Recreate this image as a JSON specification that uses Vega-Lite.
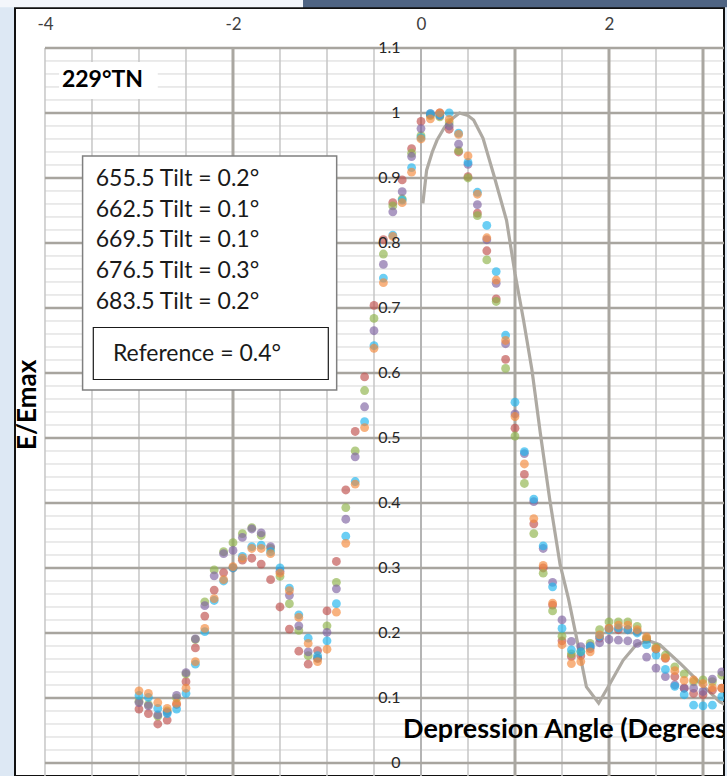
{
  "$schema": "https://vega.github.io/schema/vega-lite/v6.json",
  "width": 709,
  "height": 768,
  "autosize": {"type": "none"},
  "padding": {"left": 15, "top": 8, "right": 3, "bottom": 0},
  "background": "#dde8f4",
  "resolve": {"axis": {"x": "independent", "y": "independent"}},
  "config": {
    "view": {"fill": "white", "stroke": "#111111", "strokeWidth": 2},
    "font": "Lato",
    "locale": {"number": {"decimal": ".", "thousands": ",", "grouping": [3], "currency": ["$", ""], "minus": "-"}},
    "style": {"guide-label": {"fontSize": 16, "fill": "#262626", "font": "Lato"}},
    "axis": {"domain": false, "ticks": false, "grid": false, "labelFont": "Lato", "title": null},
    "axisX": {"labelFontSize": 17, "labelColor": "#404040", "labelPadding": 24, "labelBaseline": "middle"},
    "axisY": {"labelFontSize": 16, "labelColor": "#262626", "labelPadding": 21}
  },
  "datasets": {
    "minor": [{"v":0.02},{"v":0.04},{"v":0.06},{"v":0.08},{"v":0.12},{"v":0.14},{"v":0.16},{"v":0.18},{"v":0.22},{"v":0.24},{"v":0.26},{"v":0.28},{"v":0.32},{"v":0.34},{"v":0.36},{"v":0.38},{"v":0.42},{"v":0.44},{"v":0.46},{"v":0.48},{"v":0.52},{"v":0.54},{"v":0.56},{"v":0.58},{"v":0.62},{"v":0.64},{"v":0.66},{"v":0.68},{"v":0.72},{"v":0.74},{"v":0.76},{"v":0.78},{"v":0.82},{"v":0.84},{"v":0.86},{"v":0.88},{"v":0.92},{"v":0.94},{"v":0.96},{"v":0.98},{"v":1.02},{"v":1.04},{"v":1.06},{"v":1.08}],
    "major": [{"v":0},{"v":0.1},{"v":0.2},{"v":0.3},{"v":0.4},{"v":0.5},{"v":0.6},{"v":0.7},{"v":0.8},{"v":0.9},{"v":1.0},{"v":1.1}],
    "vthin": [{"v":-4},{"v":-3.5},{"v":-3},{"v":-2.5},{"v":-1.5},{"v":-1},{"v":-0.5},{"v":0.5},{"v":1.5},{"v":2.5}],
    "vmid": [{"v":0}],
    "vthick": [{"v":-2},{"v":1},{"v":2},{"v":3}],
    "ref": [{"x":0.02,"y":0.861},{"x":0.06,"y":0.912},{"x":0.12,"y":0.94},{"x":0.17,"y":0.958},{"x":0.25,"y":0.978},{"x":0.31,"y":0.989},{"x":0.41,"y":1.0},{"x":0.5,"y":0.996},{"x":0.56,"y":0.989},{"x":0.66,"y":0.961},{"x":0.77,"y":0.907},{"x":0.91,"y":0.835},{"x":1.0,"y":0.753},{"x":1.09,"y":0.682},{"x":1.18,"y":0.605},{"x":1.27,"y":0.507},{"x":1.37,"y":0.405},{"x":1.48,"y":0.305},{"x":1.57,"y":0.252},{"x":1.66,"y":0.189},{"x":1.76,"y":0.117},{"x":1.89,"y":0.092},{"x":1.99,"y":0.117},{"x":2.15,"y":0.158},{"x":2.29,"y":0.182},{"x":2.42,"y":0.188},{"x":2.54,"y":0.182},{"x":2.76,"y":0.153},{"x":2.97,"y":0.123},{"x":3.18,"y":0.094},{"x":3.3,"y":0.085}],
    "tilt": [
      {"x":-3.0,"t655":0.083,"t662":0.095,"t669":0.093,"t676":0.104,"t683":0.111},
      {"x":-2.9,"t655":0.076,"t662":0.090,"t669":0.088,"t676":0.101,"t683":0.107},
      {"x":-2.8,"t655":0.060,"t662":0.072,"t669":0.074,"t676":0.084,"t683":0.093},
      {"x":-2.7,"t655":0.066,"t662":0.080,"t669":0.078,"t676":0.076,"t683":0.084},
      {"x":-2.6,"t655":0.090,"t662":0.100,"t669":0.104,"t676":0.083,"t683":0.092},
      {"x":-2.5,"t655":0.125,"t662":0.137,"t669":0.139,"t676":0.107,"t683":0.115},
      {"x":-2.4,"t655":0.177,"t662":0.190,"t669":0.191,"t676":0.152,"t683":0.156},
      {"x":-2.3,"t655":0.226,"t662":0.248,"t669":0.242,"t676":0.202,"t683":0.207},
      {"x":-2.2,"t655":0.266,"t662":0.297,"t669":0.288,"t676":0.250,"t683":0.253},
      {"x":-2.1,"t655":0.293,"t662":0.325,"t669":0.322,"t676":0.280,"t683":0.282},
      {"x":-2.0,"t655":0.300,"t662":0.339,"t669":0.327,"t676":0.300,"t683":0.302},
      {"x":-1.9,"t655":0.312,"t662":0.353,"t669":0.347,"t676":0.318,"t683":0.315},
      {"x":-1.8,"t655":0.315,"t662":0.362,"t669":0.360,"t676":0.333,"t683":0.330},
      {"x":-1.7,"t655":0.306,"t662":0.350,"t669":0.354,"t676":0.335,"t683":0.330},
      {"x":-1.6,"t655":0.282,"t662":0.330,"t669":0.333,"t676":0.325,"t683":0.322},
      {"x":-1.5,"t655":0.240,"t662":0.287,"t669":0.295,"t676":0.300,"t683":0.292},
      {"x":-1.4,"t655":0.206,"t662":0.245,"t669":0.258,"t676":0.269,"t683":0.265},
      {"x":-1.3,"t655":0.172,"t662":0.204,"t669":0.211,"t676":0.228,"t683":0.224},
      {"x":-1.2,"t655":0.152,"t662":0.165,"t669":0.171,"t676":0.192,"t683":0.184},
      {"x":-1.1,"t655":0.173,"t662":0.161,"t669":0.161,"t676":0.165,"t683":0.156},
      {"x":-1.0,"t655":0.234,"t662":0.211,"t669":0.201,"t676":0.188,"t683":0.175},
      {"x":-0.9,"t655":0.310,"t662":0.278,"t669":0.268,"t676":0.245,"t683":0.232},
      {"x":-0.8,"t655":0.420,"t662":0.393,"t669":0.375,"t676":0.349,"t683":0.338},
      {"x":-0.7,"t655":0.510,"t662":0.480,"t669":0.471,"t676":0.433,"t683":0.429},
      {"x":-0.6,"t655":0.594,"t662":0.573,"t669":0.548,"t676":0.525,"t683":0.516},
      {"x":-0.5,"t655":0.704,"t662":0.684,"t669":0.665,"t676":0.642,"t683":0.638},
      {"x":-0.4,"t655":0.805,"t662":0.783,"t669":0.767,"t676":0.746,"t683":0.739},
      {"x":-0.3,"t655":0.862,"t662":0.857,"t669":0.848,"t676":0.812,"t683":0.810},
      {"x":-0.2,"t655":0.897,"t662":0.868,"t669":0.879,"t676":0.866,"t683":0.862},
      {"x":-0.1,"t655":0.945,"t662":0.938,"t669":0.933,"t676":0.916,"t683":0.909},
      {"x":0.0,"t655":0.987,"t662":0.965,"t669":0.976,"t676":0.962,"t683":0.960},
      {"x":0.1,"t655":0.997,"t662":0.996,"t669":0.999,"t676":0.999,"t683":0.991},
      {"x":0.2,"t655":1.0,"t662":0.994,"t669":0.996,"t676":0.997,"t683":1.0},
      {"x":0.3,"t655":0.975,"t662":0.985,"t669":0.980,"t676":1.0,"t683":0.990},
      {"x":0.4,"t655":0.940,"t662":0.942,"t669":0.952,"t676":0.969,"t683":0.967},
      {"x":0.5,"t655":0.902,"t662":0.900,"t669":0.921,"t676":0.924,"t683":0.934},
      {"x":0.6,"t655":0.846,"t662":0.842,"t669":0.859,"t676":0.878,"t683":0.875},
      {"x":0.7,"t655":0.788,"t662":0.774,"t669":0.805,"t676":0.827,"t683":0.808},
      {"x":0.8,"t655":0.714,"t662":0.710,"t669":0.738,"t676":0.756,"t683":0.743},
      {"x":0.9,"t655":0.621,"t662":0.607,"t669":0.645,"t676":0.658,"t683":0.650},
      {"x":1.0,"t655":0.515,"t662":0.503,"t669":0.537,"t676":0.555,"t683":0.533},
      {"x":1.1,"t655":0.444,"t662":0.430,"t669":0.476,"t676":0.479,"t683":0.460},
      {"x":1.2,"t655":0.368,"t662":0.353,"t669":0.402,"t676":0.406,"t683":0.376},
      {"x":1.3,"t655":0.300,"t662":0.292,"t669":0.330,"t676":0.334,"t683":0.304},
      {"x":1.4,"t655":0.243,"t662":0.234,"t669":0.278,"t676":0.271,"t683":0.246},
      {"x":1.5,"t655":0.188,"t662":0.195,"t669":0.220,"t676":0.207,"t683":0.182},
      {"x":1.6,"t655":0.164,"t662":0.168,"t669":0.187,"t676":0.174,"t683":0.153},
      {"x":1.7,"t655":0.165,"t662":0.172,"t669":0.179,"t676":0.171,"t683":0.156},
      {"x":1.8,"t655":0.176,"t662":0.184,"t669":0.180,"t676":0.179,"t683":0.171},
      {"x":1.9,"t655":0.192,"t662":0.205,"t669":0.185,"t676":0.195,"t683":0.197},
      {"x":2.0,"t655":0.207,"t662":0.217,"t669":0.190,"t676":0.205,"t683":0.207},
      {"x":2.1,"t655":0.205,"t662":0.217,"t669":0.189,"t676":0.208,"t683":0.212},
      {"x":2.2,"t655":0.205,"t662":0.217,"t669":0.188,"t676":0.205,"t683":0.212},
      {"x":2.3,"t655":0.202,"t662":0.210,"t669":0.184,"t676":0.200,"t683":0.205},
      {"x":2.4,"t655":0.190,"t662":0.192,"t669":0.163,"t676":0.182,"t683":0.194},
      {"x":2.5,"t655":0.175,"t662":0.178,"t669":0.146,"t676":0.166,"t683":0.176},
      {"x":2.6,"t655":0.161,"t662":0.166,"t669":0.133,"t676":0.144,"t683":0.162},
      {"x":2.7,"t655":0.133,"t662":0.148,"t669":0.120,"t676":0.118,"t683":0.142},
      {"x":2.8,"t655":0.115,"t662":0.137,"t669":0.115,"t676":0.105,"t683":0.127},
      {"x":2.9,"t655":0.107,"t662":0.125,"t669":0.115,"t676":0.089,"t683":0.128},
      {"x":3.0,"t655":0.105,"t662":0.128,"t669":0.110,"t676":0.088,"t683":0.122},
      {"x":3.1,"t655":0.112,"t662":0.125,"t669":0.129,"t676":0.089,"t683":0.116},
      {"x":3.2,"t655":0.115,"t662":0.135,"t669":0.140,"t676":0.102,"t683":0.115}
    ]
  },
  "layer": [
    {
      "data": {"name": "minor"},
      "mark": {"type": "rule", "color": "#d6d6d6", "strokeWidth": 1, "clip": true},
      "encoding": {
        "y": {"field": "v", "type": "quantitative", "scale": {"domain": [-0.02, 1.1615], "nice": false, "zero": false}, "axis": {"orient": "left", "values": [0, 0.1, 0.2, 0.3, 0.4, 0.5, 0.6, 0.7, 0.8, 0.9, 1, 1.1], "format": "~g", "offset": -406, "title": null, "zindex": 1, "labelFontSize": 16, "labelColor": "#262626", "labelPadding": 21, "labelFont": "Lato", "domain": false, "ticks": false, "grid": false, "encode": {"labels": {"update": {"fontSize": {"value": 16}, "fill": {"value": "#262626"}}}}}},
        "x": {"datum": -4, "type": "quantitative", "scale": {"domain": [-4.319, 3.2234], "nice": false, "zero": false}, "axis": {"orient": "top", "values": [-4, -2, 0, 2], "format": "d", "offset": -40, "title": null, "zindex": 1, "labelFontSize": 17, "labelColor": "#404040", "labelPadding": 24, "labelBaseline": "middle", "labelFont": "Lato", "domain": false, "ticks": false, "grid": false, "encode": {"labels": {"update": {"fontSize": {"value": 17}, "fill": {"value": "#404040"}}}}}},
        "x2": {"datum": 3.4}
      }
    },
    {
      "data": {"name": "vthin"},
      "mark": {"type": "rule", "color": "#c6c6c6", "strokeWidth": 1.5, "clip": true},
      "encoding": {
        "x": {"field": "v", "type": "quantitative", "axis": null},
        "y": {"datum": -0.03, "type": "quantitative", "axis": null},
        "y2": {"datum": 1.1}
      }
    },
    {
      "data": {"name": "vmid"},
      "mark": {"type": "rule", "color": "#b4b4b4", "strokeWidth": 2, "clip": true},
      "encoding": {
        "x": {"field": "v", "type": "quantitative", "axis": null},
        "y": {"datum": -0.03, "type": "quantitative", "axis": null},
        "y2": {"datum": 1.1}
      }
    },
    {
      "data": {"name": "major"},
      "mark": {"type": "rule", "color": "#a8a59f", "strokeWidth": 2.5, "clip": true},
      "encoding": {
        "y": {"field": "v", "type": "quantitative", "axis": null},
        "x": {"datum": -4, "type": "quantitative", "axis": null},
        "x2": {"datum": 3.4}
      }
    },
    {
      "data": {"name": "vthick"},
      "mark": {"type": "rule", "color": "#aaa7a1", "strokeWidth": 3, "clip": true},
      "encoding": {
        "x": {"field": "v", "type": "quantitative", "axis": null},
        "y": {"datum": -0.03, "type": "quantitative", "axis": null},
        "y2": {"datum": 1.1}
      }
    },
    {
      "data": {"values": [{}]},
      "mark": {"type": "rect", "color": "#f3f6fb", "clip": false},
      "encoding": {
        "x": {"datum": -4.5, "type": "quantitative", "axis": null},
        "x2": {"datum": -1.255},
        "y": {"datum": 1.1625, "type": "quantitative", "axis": null},
        "y2": {"datum": 1.2}
      }
    },
    {
      "data": {"values": [{}]},
      "mark": {"type": "rect", "color": "#4f6483", "clip": false},
      "encoding": {
        "x": {"datum": -1.255, "type": "quantitative", "axis": null},
        "x2": {"datum": 3.4},
        "y": {"datum": 1.1625, "type": "quantitative", "axis": null},
        "y2": {"datum": 1.2}
      }
    },
    {
      "data": {"values": [{}]},
      "mark": {"type": "rect", "color": "white"},
      "encoding": {
        "x": {"datum": -3.85, "type": "quantitative", "axis": null},
        "x2": {"datum": -2.8},
        "y": {"datum": 1.0215, "type": "quantitative", "axis": null},
        "y2": {"datum": 1.0785}
      }
    },
    {
      "data": {"values": [{}]},
      "mark": {"type": "text", "text": "229°TN", "font": "Lato", "fontWeight": "bold", "fontSize": 23, "align": "left", "baseline": "middle", "color": "#000000"},
      "encoding": {
        "x": {"datum": -3.82, "type": "quantitative", "axis": null},
        "y": {"datum": 1.0505, "type": "quantitative", "axis": null}
      }
    },
    {
      "data": {"values": [{}]},
      "mark": {"type": "rect", "fill": "white", "stroke": "#808080", "strokeWidth": 1.5},
      "encoding": {
        "x": {"datum": -3.6, "type": "quantitative", "axis": null},
        "x2": {"datum": -0.897},
        "y": {"datum": 0.934, "type": "quantitative", "axis": null},
        "y2": {"datum": 0.574}
      }
    },
    {
      "data": {"values": [{}]},
      "mark": {"type": "rect", "fill": "white", "stroke": "#1a1a1a", "strokeWidth": 1.2},
      "encoding": {
        "x": {"datum": -3.486, "type": "quantitative", "axis": null},
        "x2": {"datum": -0.986},
        "y": {"datum": 0.67, "type": "quantitative", "axis": null},
        "y2": {"datum": 0.59}
      }
    },
    {
      "data": {"values": [{}]},
      "mark": {"type": "text", "text": ["655.5 Tilt = 0.2°", "662.5 Tilt = 0.1°", "669.5 Tilt = 0.1°", "676.5 Tilt = 0.3°", "683.5 Tilt = 0.2°"], "lineHeight": 30.7, "font": "Lato", "fontSize": 23, "align": "left", "baseline": "middle", "color": "#1a1a1a"},
      "encoding": {
        "x": {"datum": -3.46, "type": "quantitative", "axis": null},
        "y": {"datum": 0.8985, "type": "quantitative", "axis": null}
      }
    },
    {
      "data": {"values": [{}]},
      "mark": {"type": "text", "text": "Reference = 0.4°", "font": "Lato", "fontSize": 23, "align": "left", "baseline": "middle", "color": "#1a1a1a"},
      "encoding": {
        "x": {"datum": -3.277, "type": "quantitative", "axis": null},
        "y": {"datum": 0.629, "type": "quantitative", "axis": null}
      }
    },
    {
      "data": {"name": "ref"},
      "mark": {"type": "line", "color": "#aeaaa3", "strokeWidth": 3.2, "clip": true},
      "encoding": {
        "x": {"field": "x", "type": "quantitative", "axis": null},
        "y": {"field": "y", "type": "quantitative", "axis": null}
      }
    },
    {
      "data": {"name": "tilt"},
      "transform": [{"fold": ["t655", "t662", "t669", "t676", "t683"], "as": ["series", "e"]}],
      "mark": {"type": "circle", "size": 78, "opacity": 0.66, "clip": true},
      "encoding": {
        "x": {"field": "x", "type": "quantitative", "axis": null},
        "y": {"field": "e", "type": "quantitative", "axis": null},
        "color": {"field": "series", "type": "nominal", "legend": null, "scale": {"domain": ["t655", "t662", "t669", "t676", "t683"], "range": ["#c0504d", "#8fb34a", "#8064a2", "#1fb4ee", "#f48a3c"]}}
      }
    },
    {
      "data": {"values": [{}]},
      "mark": {"type": "text", "text": "Depression Angle (Degrees)", "font": "Lato", "fontWeight": "bold", "fontSize": 27, "align": "left", "baseline": "middle", "color": "#000000", "clip": true},
      "encoding": {
        "x": {"datum": -0.191, "type": "quantitative", "axis": null},
        "y": {"datum": 0.0508, "type": "quantitative", "axis": null}
      }
    },
    {
      "data": {"values": [{}]},
      "mark": {"type": "text", "text": "E/Emax", "font": "Lato", "fontWeight": "bold", "fontSize": 26, "align": "center", "baseline": "middle", "angle": 270, "color": "#000000"},
      "encoding": {
        "x": {"datum": -4.181, "type": "quantitative", "axis": null},
        "y": {"datum": 0.551, "type": "quantitative", "axis": null}
      }
    }
  ]
}
